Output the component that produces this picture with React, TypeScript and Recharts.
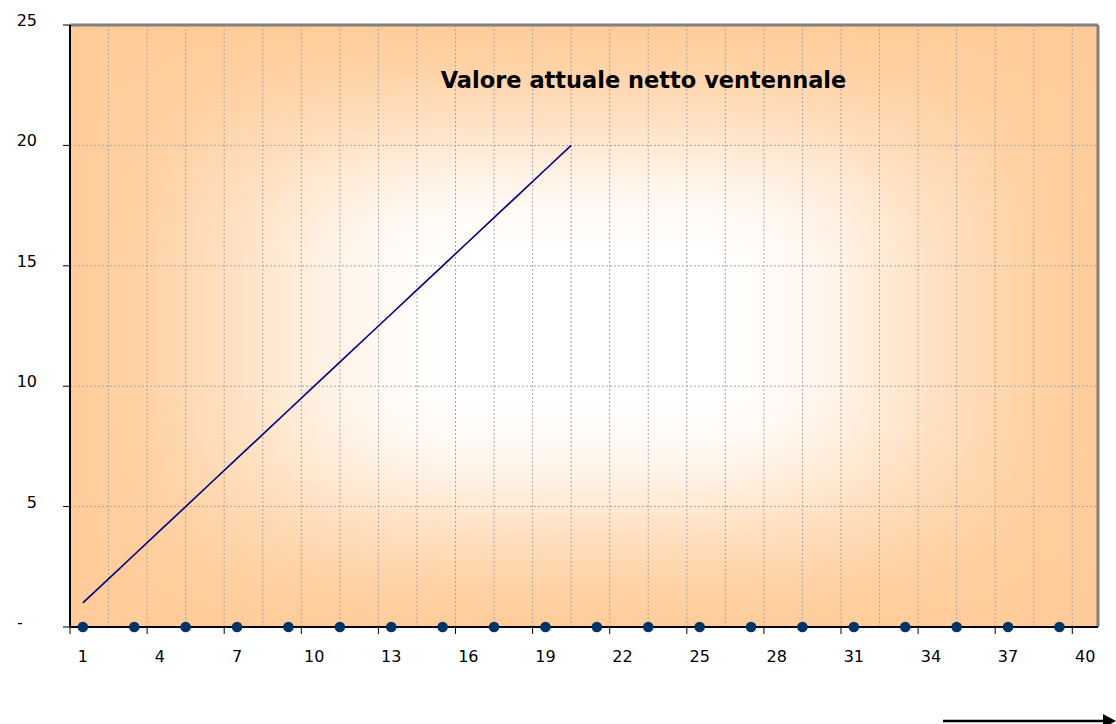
import React from 'react';
import {
  ComposedChart,
  Line,
  Scatter,
  XAxis,
  YAxis,
  CartesianGrid,
  ReferenceLine,
} from 'recharts';

document.body.style.margin = '0';

// values
const years = [1, 2, 3, 4, 5, 6, 7, 8, 9, 10, 11, 12, 13, 14, 15, 16, 17, 18, 19, 20];
const npv = [1, 2, 3, 4, 5, 6, 7, 8, 9, 10, 11, 12, 13, 14, 15, 16, 17, 18, 19, 20];

const dotYears = [1, 3, 5, 7, 9, 11, 13, 15, 17, 19, 21, 23, 25, 27, 29, 31, 33, 35, 37, 39];
const dotValues = [0, 0, 0, 0, 0, 0, 0, 0, 0, 0, 0, 0, 0, 0, 0, 0, 0, 0, 0, 0];

const xTicks = [1, 4, 7, 10, 13, 16, 19, 22, 25, 28, 31, 34, 37, 40];
const yTicks = [0, 5, 10, 15, 20, 25];
const gridX = [2, 3.5, 5, 6.5, 8, 9.5, 11, 12.5, 14, 15.5, 17, 18.5, 20, 21.5, 23, 24.5, 26, 27.5, 29, 30.5, 32, 33.5, 35, 36.5, 38, 39.5];

const title = 'Valore attuale netto ventennale';

const W = 1116;
const H = 724;
const margin = { top: 25, right: 18, left: 0, bottom: 0 };
const Y_AXIS_W = 70;
const X_AXIS_H = 97;
const plotW = W - margin.left - margin.right - Y_AXIS_W;
const halfStep = plotW / 40 / 2;

const FONT = '"DejaVu Sans", sans-serif';
const ORANGE = '#FFCC99';

// fade from the edge to the middle, same for both directions
const fadeStops: [number, number][] = [
  [0, 1],
  [0.08, 0.85],
  [0.17, 0.55],
  [0.25, 0.25],
  [0.32, 0.07],
  [0.38, 0],
  [0.62, 0],
  [0.68, 0.07],
  [0.75, 0.25],
  [0.83, 0.55],
  [0.92, 0.85],
  [1, 1],
];

const lineData = years.map((year, i) => ({ year, v: npv[i] }));
const dotData = dotYears.map((year, i) => ({ year, v: dotValues[i] }));

const XTick = (props: any) => {
  const { x, y, payload } = props;
  return (
    <g>
      <line x1={x - halfStep} x2={x - halfStep} y1={y} y2={y + 7} stroke="#000" strokeWidth={1} />
      <text x={x} y={y + 35} textAnchor="middle" fontFamily={FONT} fontSize={16} fill="#000">
        {payload.value}
      </text>
    </g>
  );
};

const YTick = (props: any) => {
  const { x, y, payload } = props;
  if (payload.value === 0) {
    return (
      <text x={x - 17} y={y + 1} textAnchor="middle" fontFamily={FONT} fontSize={16} fill="#000">
        -
      </text>
    );
  }
  return (
    <text x={x} y={y + 1} textAnchor="end" fontFamily={FONT} fontSize={16} fill="#000">
      {payload.value}
    </text>
  );
};

const Dot = (props: any) => <circle cx={props.cx} cy={props.cy} r={5.3} fill="#003366" />;

const gridVertical = (props: any) => {
  const scale = props?.xAxis?.scale;
  if (scale && typeof scale === 'function') return gridX.map((v) => scale(v));
  if (scale && typeof scale.map === 'function') return gridX.map((v) => scale.map(v));
  const left = props.offset.left;
  const w = props.offset.width;
  return gridX.map((v) => left + ((v - 0.5) / 40) * w);
};

const App = () => {
  return (
    <div style={{ position: 'relative', width: W, height: H, background: '#fff' }}>
      <svg width={0} height={0} style={{ position: 'absolute' }}>
        <defs>
          <linearGradient id="fadeH" x1="0" y1="0" x2="1" y2="0">
            {fadeStops.map(([o, a]) => (
              <stop key={o} offset={o} stopColor={ORANGE} stopOpacity={a} />
            ))}
          </linearGradient>
          <linearGradient id="fadeV" x1="0" y1="0" x2="0" y2="1">
            {fadeStops.map(([o, a]) => (
              <stop key={o} offset={o} stopColor={ORANGE} stopOpacity={a} />
            ))}
          </linearGradient>
          <pattern id="plotBg" patternUnits="objectBoundingBox" patternContentUnits="objectBoundingBox" width="1" height="1">
            <rect x="0" y="0" width="1" height="1" fill="#FFFFFF" />
            <rect x="0" y="0" width="1" height="1" fill="url(#fadeH)" />
            <rect x="0" y="0" width="1" height="1" fill="url(#fadeV)" />
          </pattern>
        </defs>
      </svg>

      <ComposedChart width={W} height={H} margin={margin}>
        <CartesianGrid
          stroke="#a6a6a6"
          strokeDasharray="2 2"
          fill="url(#plotBg)"
          fillOpacity={1}
          verticalCoordinatesGenerator={gridVertical}
        />
        <XAxis
          dataKey="year"
          type="number"
          domain={[0.5, 40.5]}
          ticks={xTicks}
          interval={0}
          height={X_AXIS_H}
          tickSize={0}
          tickMargin={0}
          tickLine={false}
          axisLine={{ stroke: '#000', strokeWidth: 2 }}
          tick={<XTick />}
        />
        <YAxis
          type="number"
          domain={[0, 25]}
          ticks={yTicks}
          interval={0}
          width={Y_AXIS_W}
          tickSize={7}
          tickMargin={26}
          tickLine={{ stroke: '#000' }}
          axisLine={{ stroke: '#000', strokeWidth: 2 }}
          tick={<YTick />}
        />
        <ReferenceLine y={25} stroke="#808080" strokeWidth={3} />
        <ReferenceLine x={40.5} stroke="#808080" strokeWidth={3} />
        <Line
          data={lineData}
          dataKey="v"
          stroke="#000080"
          strokeWidth={1.6}
          dot={false}
          activeDot={false}
          isAnimationActive={false}
        />
        <Scatter data={dotData} dataKey="v" shape={<Dot />} isAnimationActive={false} />
      </ComposedChart>

      <div
        style={{
          position: 'absolute',
          left: 0,
          width: 1287,
          top: 67,
          textAlign: 'center',
          fontFamily: FONT,
          fontWeight: 'bold',
          fontSize: 22.5,
          color: '#000',
          whiteSpace: 'nowrap',
        }}
      >
        {title}
      </div>

      <svg width={W} height={H} style={{ position: 'absolute', left: 0, top: 0, pointerEvents: 'none' }}>
        <line x1={943} y1={721} x2={1105} y2={721} stroke="#000" strokeWidth={2.5} />
        <polygon points="1103,714 1116,721 1103,728" fill="#000" />
      </svg>
    </div>
  );
};

export default App;
